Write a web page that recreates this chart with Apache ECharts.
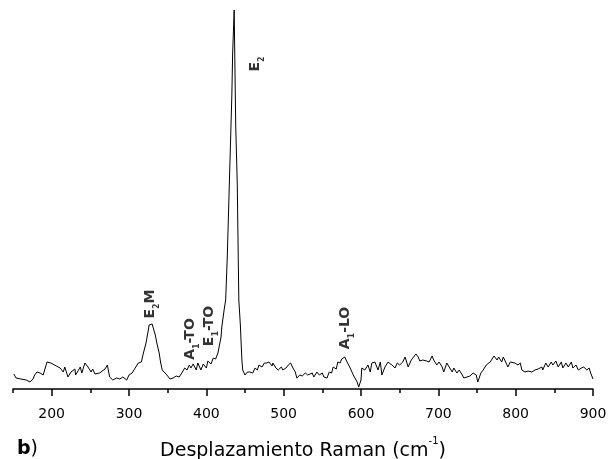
<!DOCTYPE html>
<html><head><meta charset="utf-8">
<script src="https://cdn.jsdelivr.net/npm/echarts@6/dist/echarts.min.js"></script>
<style>html,body{margin:0;padding:0;background:#fff}#c{width:608px;height:459px}</style>
</head><body><div id="c"></div>
<script>
const ramanShift = [151,154,160,167,172,176,178,181,185,189,194,199,206,211,215,217,221,225,230,231,237,239,243,247,251,253,256,262,269,272,275,279,284,288,292,297,300,304,308,312,316,318,322,325,326,330,331,334,336,339,341,343,345,349,353,357,361,365,369,372,375,378,380,383,387,389,393,396,400,402,406,409,412,415,417,419,420,423,425,427,430,433,434,436,437,438,440,441,442,444,445,446,447,450,453,454,456,460,463,466,468,472,475,478,481,485,486,490,493,497,499,503,506,509,512,515,517,521,524,528,531,537,539,543,546,550,552,556,559,562,564,568,570,573,575,579,582,586,590,595,597,600,601,605,609,612,614,618,622,625,627,631,635,640,644,647,650,654,657,659,661,665,667,671,674,676,680,685,688,692,694,698,701,705,707,711,714,718,720,724,727,731,733,737,741,745,749,751,755,758,762,764,767,769,772,776,778,782,784,786,790,793,795,799,803,806,808,812,816,821,825,829,834,835,839,842,846,848,852,855,859,861,865,868,872,874,878,881,885,888,892,895,897,900];
const intensity = [15,11,10,9,7,10,14,17,16,14,27,26,23,21,17,22,12,17,20,14,22,16,26,22,17,20,15,16,20,24,12,9,11,10,12,9,14,16,21,26,27,34,46,59,64,65,62,54,46,36,26,19,21,14,10,11,13,12,17,21,19,24,21,25,19,26,19,25,21,28,25,31,30,36,38,52,62,79,89,130,212,294,335,379,321,263,205,147,89,64,46,29,19,14,17,15,17,16,21,19,24,22,26,26,27,23,26,21,19,22,19,21,24,26,21,17,11,14,13,16,14,16,12,17,14,16,12,11,17,16,22,20,27,26,30,32,27,21,14,7,2,9,21,19,24,17,26,27,19,27,14,22,27,24,21,26,24,27,32,27,22,29,31,35,32,28,29,28,27,33,29,24,27,22,17,26,22,17,21,16,19,14,11,12,13,16,14,7,16,19,24,22,27,26,33,29,32,27,32,34,22,27,28,26,24,26,19,17,18,17,19,20,22,19,26,22,27,24,28,22,27,21,26,22,27,21,24,19,21,22,19,21,16,10];
const xTickLabels = [200,300,400,500,600,700,800,900];
const xMinorTicks = [150,250,350,450,550,650,750,850];
const peakLabels = ['{m|E}{s|2}{m|M}','{m|A}{s|1}{m|-TO}','{m|E}{s|1}{m|-TO}','{m|E}{s|2}','{m|A}{s|1}{m|-LO}'];
const peakLabelX = [328,380,404,464,580];
const peakLabelY = [85,50,63,325,61];
const axisTitle = '{t|Desplazamiento Raman (cm}{sup|-1}{t|)}';
const panelLabel = '{b|b}{p|)}';

const chart = echarts.init(document.getElementById('c'), null, {renderer:'canvas'});
const FF = 'DejaVu Sans';
const lineData = ramanShift.map((x,i)=>[x,intensity[i]]);
const labelData = peakLabels.map((t,i)=>({value:[peakLabelX[i],peakLabelY[i]], name:t}));
chart.setOption({
  animation:false,
  backgroundColor:'#fff',
  grid:{left:13,right:15,top:9,bottom:70,outerBoundsMode:'none',containLabel:false},
  xAxis:[{
    type:'value',min:150,max:900,interval:100,
    axisLine:{onZero:false,lineStyle:{color:'#000',width:1.5}},
    axisTick:{show:true,customValues:xTickLabels,length:7,lineStyle:{color:'#000',width:1.5}},
    axisLabel:{customValues:xTickLabels,margin:18,color:'#000',fontFamily:FF,fontSize:14},
    splitLine:{show:false},
    name:axisTitle,nameLocation:'middle',nameGap:47,
    nameTextStyle:{color:'#000',fontFamily:FF,fontSize:19,rich:{
      t:{fontFamily:FF,fontSize:19,color:'#000',lineHeight:22,verticalAlign:'top',padding:[6,0,0,0]},
      sup:{fontFamily:FF,fontSize:10,color:'#000',lineHeight:10,verticalAlign:'top'}
    }}
  },{
    type:'value',min:150,max:900,position:'bottom',
    axisLine:{show:false,onZero:false},
    axisTick:{show:true,customValues:xMinorTicks,length:4,lineStyle:{color:'#000',width:1.5}},
    axisLabel:{show:false},splitLine:{show:false}
  }],
  yAxis:{type:'value',min:0,max:380,show:false,splitLine:{show:false}},
  series:[{
    type:'line',data:lineData,showSymbol:false,symbol:'none',
    lineStyle:{color:'#000',width:1},silent:true,z:3
  },{
    type:'scatter',data:labelData,symbolSize:1,itemStyle:{color:'rgba(0,0,0,0)'},silent:true,z:4,
    label:{show:true,position:'inside',rotate:90,formatter:p=>p.name,color:'#000',
      rich:{
        m:{fontFamily:FF,fontWeight:'bold',fontSize:14,color:'#000',lineHeight:15,verticalAlign:'top'},
        s:{fontFamily:FF,fontWeight:'bold',fontSize:8,color:'#000',lineHeight:8,verticalAlign:'top',padding:[10,0,0,0]}
      }}
  }],
  graphic:[{
    type:'text',left:17,top:440,silent:true,
    style:{text:panelLabel,fill:'#000',rich:{
      b:{fontFamily:FF,fontWeight:'bold',fontSize:19,fill:'#000',color:'#000'},
      p:{fontFamily:FF,fontSize:19,fill:'#000',color:'#000'}
    }}
  }]
});
</script></body></html>
